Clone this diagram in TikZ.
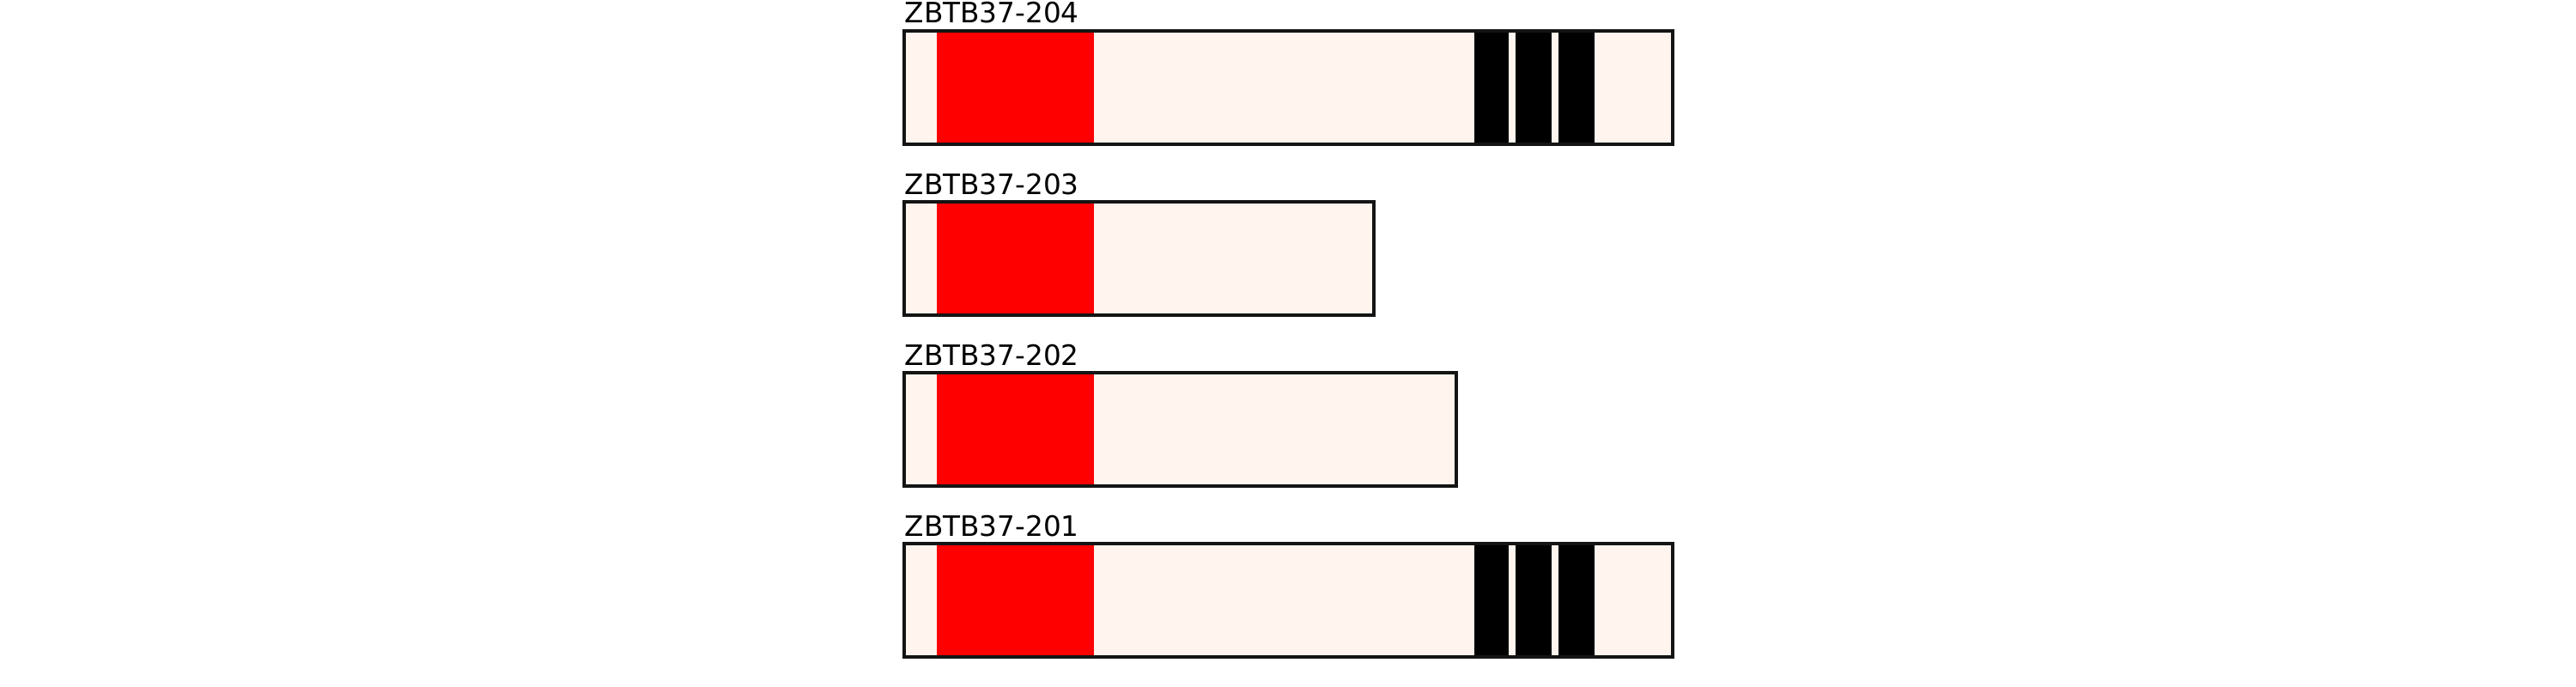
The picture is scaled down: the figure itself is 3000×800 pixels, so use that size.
\documentclass[tikz,border=0pt]{standalone}
\usepackage{fontspec}
\setmainfont{DejaVu Sans}
\definecolor{utr}{HTML}{FFF4EE}
\definecolor{dom}{HTML}{FF0000}
\tikzset{
  lbl/.style={anchor=base west, inner sep=0pt, font=\fontsize{9.3}{11}\selectfont},
  outline/.style={draw=black!92, line width=1pt},
  reddom/.style={fill=dom},
  blkdom/.style={fill=black},
}
\begin{document}
\begin{tikzpicture}[x=0.01cm,y=-0.01cm]
\useasboundingbox (0,0) rectangle (3000,800);
% rows: top = 36 + 199k, height 132
\foreach \name/\top/\right/\bars in {ZBTB37-204/36/1948/1, ZBTB37-203/235/1600/0, ZBTB37-202/434/1696/0, ZBTB37-201/633/1948/1}{
  \pgfmathsetmacro{\bot}{\top+132}
  \pgfmathsetmacro{\ty}{\top-9}
  \fill[utr] (1053,\top) rectangle (\right,\bot);
  \fill[reddom] (1091,\top) rectangle (1274,\bot);
  \ifnum\bars=1
    \fill[blkdom] (1717,\top) rectangle (1757,\bot);
    \fill[blkdom] (1765,\top) rectangle (1807,\bot);
    \fill[blkdom] (1815,\top) rectangle (1857,\bot);
  \fi
  \draw[outline] (1053,\top) rectangle (\right,\bot);
  \node[lbl] (l\name) at (1053,\ty) {\name};
}
\end{tikzpicture}
\end{document}
